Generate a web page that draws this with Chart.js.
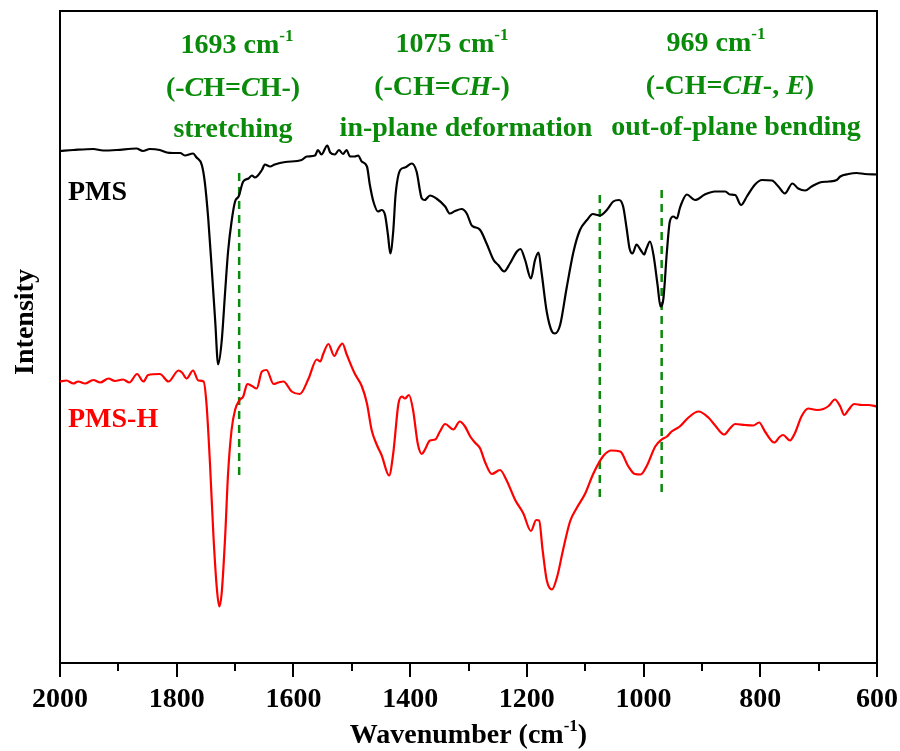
<!DOCTYPE html>
<html><head><meta charset="utf-8">
<script src="https://cdn.jsdelivr.net/npm/chart.js@4.4.1/dist/chart.umd.min.js"></script>
<style>html,body{margin:0;padding:0;background:#fff;}canvas{display:block;}</style>
</head><body>
<canvas id="c" width="900" height="751"></canvas>
<script>
// ---------- DATA ----------
const pmsWavenumber = [2000,1977,1943,1926,1903,1869,1858,1846,1829,1817,1806,1794,1786,1772,1766,1757,1752,1746,1740,1734,1729,1723,1717,1712,1706,1700,1694,1686,1677,1671,1666,1654,1649,1640,1632,1614,1586,1577,1563,1558,1552,1542,1537,1529,1522,1515,1509,1503,1495,1489,1483,1474,1469,1463,1455,1449,1443,1438,1434,1429,1425,1417,1409,1397,1389,1380,1375,1366,1355,1340,1332,1323,1312,1303,1295,1292,1280,1269,1257,1249,1239,1229,1217,1211,1203,1193,1186,1180,1175,1166,1157,1152,1143,1132,1120,1109,1097,1087,1075,1063,1052,1042,1035,1029,1024,1019,1012,1005,999,995,989,983,976,971,966,960,955,949,943,938,935,926,912,895,878,860,852,843,833,823,809,797,780,769,758,745,735,723,712,698,683,669,663,649,635,621,600];
const pmsIntensity = [102.4,102.6,102.8,102.5,102.6,102.9,102.4,102.8,102.6,102.1,102.0,102.0,101.5,101.9,101.1,99.6,96.3,88.9,78.9,68.3,59.7,64.3,74.3,82.3,88.3,92.3,93.3,96.3,96.9,97.5,97.1,98.6,99.7,99.3,99.7,100.2,100.6,101.3,101.5,102.6,101.7,103.5,102.1,101.7,102.6,101.8,102.6,101.3,101.3,101.5,100.3,99.3,95.6,92.3,90.3,90.6,89.6,85.6,81.9,86.3,93.6,98.6,99.1,99.9,98.3,92.9,92.6,93.5,92.9,91.3,89.9,90.4,90.8,89.9,87.6,87.3,86.6,83.9,80.6,79.6,78.3,79.9,82.3,82.8,80.6,76.9,80.6,82.1,78.3,70.3,66.3,65.9,67.6,74.9,82.3,86.6,88.6,89.8,89.5,90.6,92.3,92.6,91.3,86.9,82.9,81.9,83.7,82.6,81.7,82.9,84.3,81.6,75.6,71.3,72.9,82.3,88.3,89.3,88.9,90.9,91.9,93.7,92.6,93.7,94.3,94.3,93.7,93.6,91.6,93.3,95.7,96.6,96.5,95.3,93.9,95.9,94.9,94.5,95.3,96.1,96.3,96.6,97.3,97.8,98.0,97.8,97.7];

const pmsHWavenumber = [2000,1989,1977,1969,1957,1943,1931,1917,1906,1892,1881,1868,1857,1849,1829,1814,1797,1791,1783,1772,1763,1754,1749,1743,1737,1731,1727,1723,1717,1712,1706,1700,1692,1686,1679,1671,1663,1654,1646,1634,1626,1617,1603,1589,1574,1560,1554,1549,1540,1530,1523,1516,1509,1495,1483,1474,1466,1457,1449,1436,1429,1420,1414,1409,1402,1395,1387,1380,1375,1366,1357,1349,1340,1326,1315,1306,1297,1289,1280,1272,1260,1246,1235,1220,1206,1193,1184,1179,1173,1166,1157,1148,1138,1126,1115,1100,1086,1069,1055,1040,1026,1015,1005,995,980,969,960,952,938,923,906,889,878,862,852,843,826,812,802,792,776,767,761,749,741,729,718,703,692,683,672,663,656,649,639,626,615,600];
const pmsHIntensity = [56.3,56.5,55.9,56.3,55.9,56.6,56.1,56.9,56.4,56.7,56.1,57.8,56.3,57.6,57.8,56.3,58.5,58.1,56.9,58.5,56.5,56.3,51.9,39.9,25.3,14.6,11.3,13.9,25.3,37.9,46.6,50.6,52.6,53.3,55.8,55.4,54.9,58.3,58.6,55.8,56.1,56.3,54.3,53.8,56.9,60.7,60.3,61.8,63.8,61.4,62.9,63.9,61.8,57.9,55.4,51.9,46.6,43.6,41.6,37.5,41.9,51.9,53.3,52.9,53.6,50.6,43.9,41.8,42.6,44.5,44.7,46.3,47.8,46.7,48.3,47.3,45.3,44.1,42.9,40.3,37.8,38.6,36.6,32.6,29.9,26.4,28.6,28.5,22.6,16.6,14.7,17.3,22.6,28.3,30.9,33.9,37.9,41.4,42.5,42.3,39.3,37.8,37.7,39.3,43.3,44.7,45.3,46.3,47.3,49.1,50.3,49.1,47.6,45.7,46.9,47.8,47.6,47.5,48.1,46.3,44.1,45.2,45.6,44.5,45.9,49.4,50.9,50.6,50.8,51.4,52.7,51.3,49.6,50.6,51.8,51.6,51.6,51.3];

const markerWavenumbers = [1693, 1075, 969];
const markerTop = [98.0, 93.6, 94.6];
const markerBottom = [36.6, 33.0, 33.2];

const xMajorTicks = [2000, 1800, 1600, 1400, 1200, 1000, 800, 600];
const xMinorTicks = [1900, 1700, 1500, 1300, 1100, 900, 700];

const seriesNames = ['PMS', 'PMS-H'];
const axisTitleX = ['Wavenumber (cm', '-1', ')'];
const axisTitleY = 'Intensity';
// annotation lines: [text, style] segments; style: n normal, i italic, s superscript
const annotations = [
  [[['1693 cm','n'],['-1','s']], [['(-','n'],['C','i'],['H=','n'],['C','i'],['H-)','n']], [['stretching','n']]],
  [[['1075 cm','n'],['-1','s']], [['(-CH=','n'],['CH','i'],['-)','n']], [['in-plane deformation','n']]],
  [[['969 cm','n'],['-1','s']], [['(-CH=','n'],['CH','i'],['-, ','n'],['E','i'],[')','n']], [['out-of-plane bending','n']]]
];

// ---------- STYLE ----------
const FONT = "'Liberation Serif','Times New Roman',serif";
const GREEN = '#0a8a0a';
const FS = 28;

const toPts = (xs, ys) => xs.map((x, i) => ({x: x, y: ys[i]}));

const datasets = [
  {data: toPts(pmsWavenumber, pmsIntensity), borderColor: '#000', borderWidth: 2.2, pointRadius: 0, cubicInterpolationMode: 'monotone', fill: false},
  {data: toPts(pmsHWavenumber, pmsHIntensity), borderColor: '#ff0000', borderWidth: 2.2, pointRadius: 0, cubicInterpolationMode: 'monotone', fill: false}
];
markerWavenumbers.forEach((w, i) => {
  datasets.push({data: [{x: w, y: markerTop[i]}, {x: w, y: markerBottom[i]}], borderColor: GREEN, borderWidth: 2.5, borderDash: [8, 6], pointRadius: 0, fill: false});
});

function drawRich(ctx, segs, cx, base, size, anchor) {
  const fontFor = (st) => st === 'i' ? `italic bold ${size}px ${FONT}` : st === 's' ? `bold ${Math.round(size*0.6)}px ${FONT}` : `bold ${size}px ${FONT}`;
  let total = 0;
  segs.forEach(([t, st]) => { ctx.font = fontFor(st); total += ctx.measureText(t).width; });
  let x = anchor === 'left' ? cx : cx - total / 2;
  ctx.textBaseline = 'alphabetic';
  ctx.textAlign = 'left';
  segs.forEach(([t, st]) => {
    ctx.font = fontFor(st);
    ctx.fillText(t, x, st === 's' ? base - size * 0.42 : base);
    x += ctx.measureText(t).width;
  });
}

const decor = {
  id: 'decor',
  afterDraw(chart) {
    const ctx = chart.ctx, a = chart.chartArea, xs = chart.scales.x;
    ctx.save();
    // top & right frame
    ctx.strokeStyle = '#000'; ctx.lineWidth = 2;
    ctx.beginPath();
    ctx.moveTo(a.left, a.top); ctx.lineTo(a.right, a.top); ctx.lineTo(a.right, a.bottom);
    ctx.stroke();
    // minor ticks
    ctx.beginPath();
    xMinorTicks.forEach(v => { const px = Math.round(xs.getPixelForValue(v)); ctx.moveTo(px, a.bottom); ctx.lineTo(px, a.bottom + 8); });
    ctx.stroke();
    // annotations
    ctx.fillStyle = GREEN;
    const centers = [[237, 233, 233], [452, 442, 466], [716, 730, 736]];
    const bases = [[53, 96, 137], [52, 95, 136], [51, 94, 135]];
    annotations.forEach((lines, g) => {
      lines.forEach((segs, l) => drawRich(ctx, segs, centers[g][l], bases[g][l], FS));
    });
    // series labels
    ctx.fillStyle = '#000';
    drawRich(ctx, [[seriesNames[0], 'n']], 68, 200, FS, 'left');
    ctx.fillStyle = '#ff0000';
    drawRich(ctx, [[seriesNames[1], 'n']], 68, 427, FS, 'left');
    // axis titles
    ctx.fillStyle = '#000';
    drawRich(ctx, [[axisTitleX[0], 'n'], [axisTitleX[1], 's'], [axisTitleX[2], 'n']], (a.left + a.right) / 2, 743, FS);
    ctx.translate(33, 322);
    ctx.rotate(-Math.PI / 2);
    drawRich(ctx, [[axisTitleY, 'n']], 0, 0, FS);
    ctx.restore();
  }
};

new Chart(document.getElementById('c'), {
  type: 'line',
  data: {datasets: datasets},
  options: {
    responsive: false,
    animation: false,
    layout: {padding: {top: 11, right: 23, bottom: 0, left: 0}},
    plugins: {legend: {display: false}, tooltip: {enabled: false}},
    scales: {
      x: {
        type: 'linear', reverse: true, min: 600, max: 2000,
        afterFit: s => { s.height = 88; s.paddingLeft = 0; s.paddingRight = 0; },
        afterBuildTicks: s => { s.ticks = xMajorTicks.map(v => ({value: v})); },
        ticks: {color: '#000', font: {family: FONT, size: FS, weight: 'bold'}, padding: 6, maxRotation: 0, autoSkip: false,
                callback: v => String(v)},
        grid: {display: true, drawOnChartArea: false, drawTicks: true, tickLength: 14, color: '#000', lineWidth: 2},
        border: {display: true, color: '#000', width: 2}
      },
      y: {
        type: 'linear', min: 0, max: 130.4,
        afterFit: s => { s.width = 60; s.paddingTop = 0; s.paddingBottom = 0; },
        ticks: {display: false},
        grid: {display: false, drawTicks: false},
        border: {display: true, color: '#000', width: 2}
      }
    }
  },
  plugins: [decor]
});
</script>
</body></html>
